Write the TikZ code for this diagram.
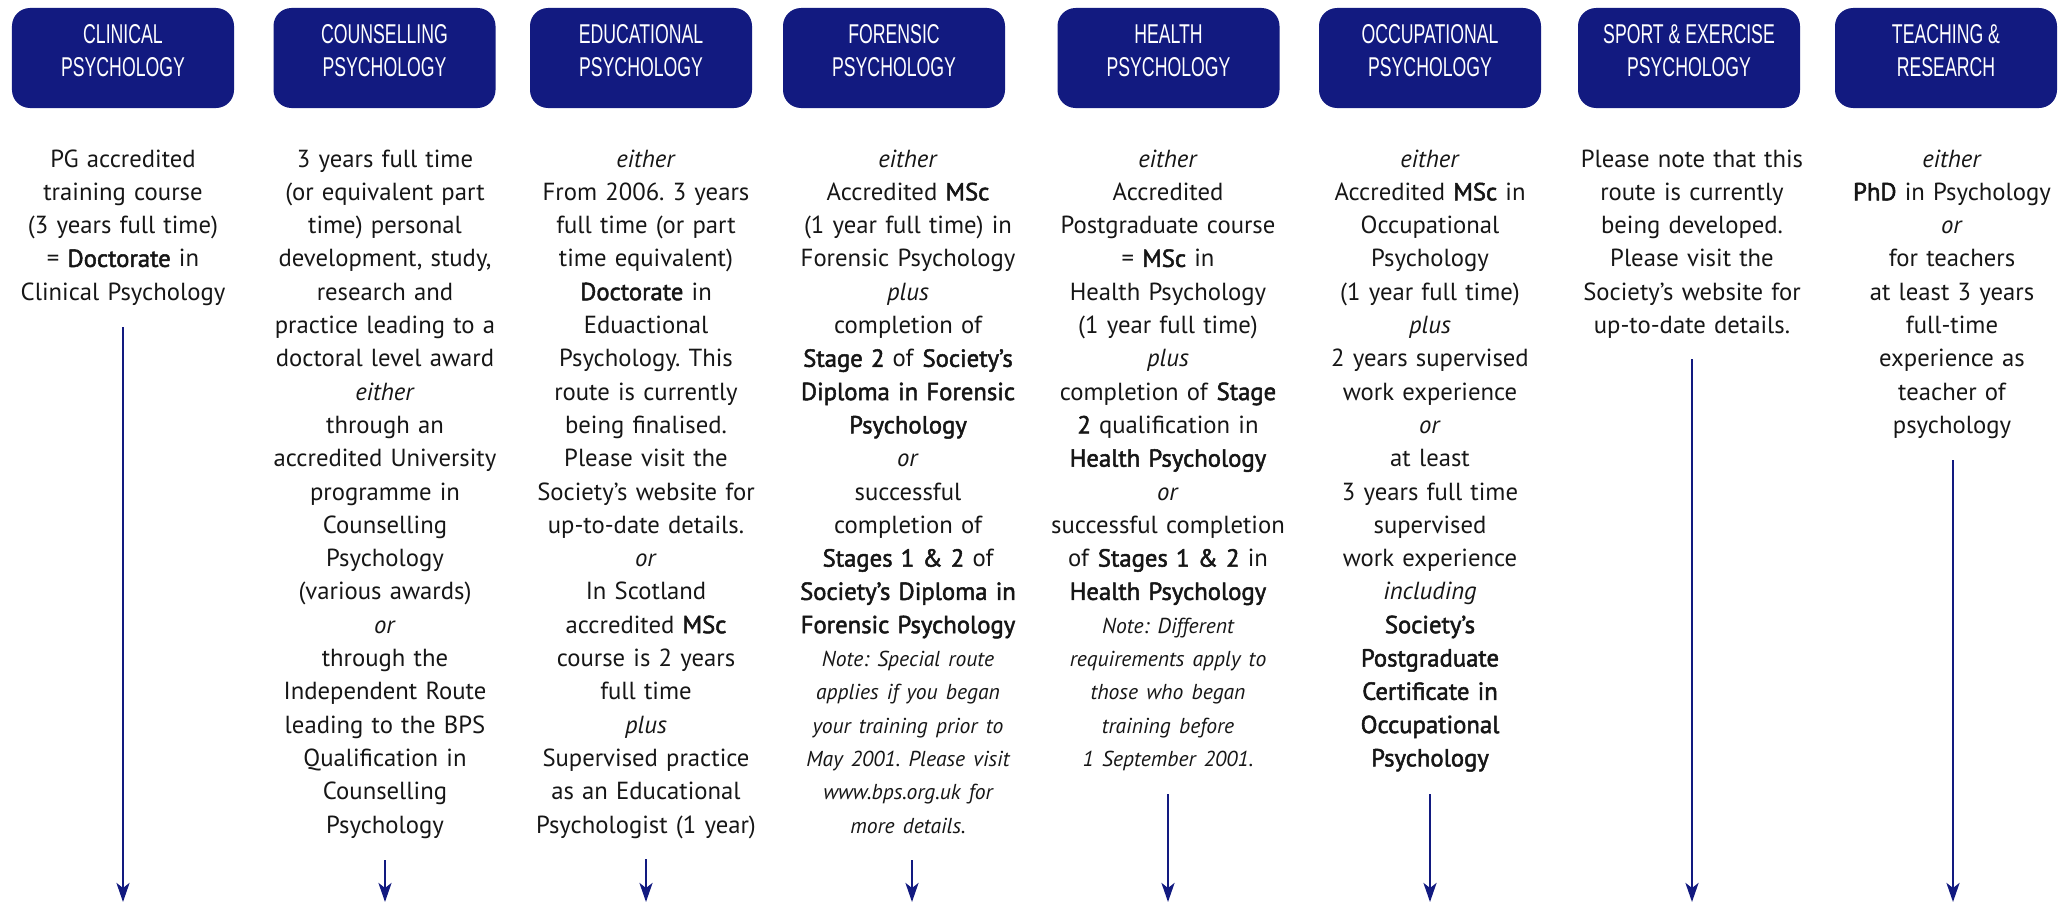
\documentclass[tikz,border=0pt]{standalone}
\usepackage{fontspec}
\setmainfont{PT Sans}[BoldFont={PT Sans}, BoldFeatures={FakeBold=2}]
\newfontfamily\headfont[FakeStretch=0.65]{Liberation Sans}
\usetikzlibrary{arrows.meta}
\definecolor{navy}{RGB}{18,26,128}
\definecolor{ink}{RGB}{22,22,22}
\newcommand{\notefont}{\fontsize{21.6bp}{33.3bp}\selectfont\itshape}
\frenchspacing
\tikzset{
  headbox/.style={fill=navy, rounded corners=18bp, minimum width=222bp, minimum height=100bp, inner sep=0pt},
  headtext/.style={text=white, font=\headfont\fontsize{27.2bp}{33bp}\selectfont, align=center, inner sep=0pt},
  body/.style={text=ink, font=\fontsize{24.7bp}{33.3bp}\selectfont\frenchspacing, text width=270bp, align=center, inner sep=0pt, anchor=base},
  flow/.style={draw=navy, line width=2.6bp, -{Stealth[length=19bp,width=13bp,inset=5bp]}},
}
\begin{document}
\begin{tikzpicture}[x=1bp,y=-1bp]
\useasboundingbox (0,0) rectangle (2071,902);
% header boxes
\node[headbox] (h1) at (123,58) {};
\node[headbox] (h2) at (384.5,58) {};
\node[headbox] (h3) at (641,58) {};
\node[headbox] (h4) at (894,58) {};
\node[headbox] (h5) at (1168.5,58) {};
\node[headbox] (h6) at (1430,58) {};
\node[headbox] (h7) at (1689,58) {};
\node[headbox] (h8) at (1946,58) {};
\node[headtext] (t1) at (123,51) {CLINICAL\\PSYCHOLOGY};
\node[headtext] (t2) at (384.5,51) {COUNSELLING\\PSYCHOLOGY};
\node[headtext] (t3) at (641,51) {EDUCATIONAL\\PSYCHOLOGY};
\node[headtext] (t4) at (894,51) {FORENSIC\\PSYCHOLOGY};
\node[headtext] (t5) at (1168.5,51) {HEALTH\\PSYCHOLOGY};
\node[headtext] (t6) at (1430,51) {OCCUPATIONAL\\PSYCHOLOGY};
\node[headtext] (t7) at (1689,51) {SPORT \& EXERCISE\\PSYCHOLOGY};
\node[headtext] (t8) at (1946,51) {TEACHING \&\\RESEARCH};
% body texts
\node[body] (b1) at (123,167) {PG accredited\\ training course\\ (3 years full time)\\ = \textbf{Doctorate} in\\ Clinical Psychology};
\node[body] (b2) at (385,167) {3 years full time\\ (or equivalent part\\ time) personal\\ development, study,\\ research and\\ practice leading to a\\ doctoral level award\\ \textit{either}\\ through an\\ accredited University\\ programme in\\ Counselling\\ Psychology\\ (various awards)\\ \textit{or}\\ through the\\ Independent Route\\ leading to the BPS\\ Qualification in\\ Counselling\\ Psychology};
\node[body] (b3) at (646,167) {\textit{either}\\ From 2006. 3 years\\ full time (or part\\ time equivalent)\\ \textbf{Doctorate} in\\ Eduactional\\ Psychology. This\\ route is currently\\ being finalised.\\ Please visit the\\ Society’s website for\\ up-to-date details.\\ \textit{or}\\ In Scotland\\ accredited \textbf{MSc}\\ course is 2 years\\ full time\\ \textit{plus}\\ Supervised practice\\ as an Educational\\ Psychologist (1 year)};
\node[body] (b4) at (908,167) {\textit{either}\\ Accredited \textbf{MSc}\\ (1 year full time) in\\ Forensic Psychology\\ \textit{plus}\\ completion of\\ \textbf{Stage 2} of \textbf{Society’s}\\ \textbf{Diploma in Forensic}\\ \textbf{Psychology}\\ \textit{or}\\ successful\\ completion of\\ \textbf{Stages 1 \& 2} of\\ \textbf{Society’s Diploma in}\\ \textbf{Forensic Psychology}\\ {\notefont Note: Special route\\ applies if you began\\ your training prior to\\ May 2001. Please visit\\ www.bps.org.uk for\\ more details.}};
\node[body] (b5) at (1168,167) {\textit{either}\\ Accredited\\ Postgraduate course\\ = \textbf{MSc} in\\ Health Psychology\\ (1 year full time)\\ \textit{plus}\\ completion of \textbf{Stage}\\ \textbf{2} qualification in\\ \textbf{Health Psychology}\\ \textit{or}\\ successful completion\\ of \textbf{Stages 1 \& 2} in\\ \textbf{Health Psychology}\\ {\notefont Note: Different\\ requirements apply to\\ those who began\\ training before\\ 1 September 2001.}};
\node[body] (b6) at (1430,167) {\textit{either}\\ Accredited \textbf{MSc} in\\ Occupational\\ Psychology\\ (1 year full time)\\ \textit{plus}\\ 2 years supervised\\ work experience\\ \textit{or}\\ at least\\ 3 years full time\\ supervised\\ work experience\\ \textit{including}\\ \textbf{Society’s}\\ \textbf{Postgraduate}\\ \textbf{Certificate in}\\ \textbf{Occupational}\\ \textbf{Psychology}};
\node[body] (b7) at (1692,167) {Please note that this\\ route is currently\\ being developed.\\ Please visit the\\ Society’s website for\\ up-to-date details.};
\node[body] (b8) at (1952,167) {\textit{either}\\ \textbf{PhD} in Psychology\\ \textit{or}\\ for teachers\\ at least 3 years\\ full-time\\ experience as\\ teacher of\\ psychology};
% arrow end points
\coordinate (s1) at (123,327);  \coordinate (e1) at (123,902);
\coordinate (s2) at (385,860);  \coordinate (e2) at (385,902);
\coordinate (s3) at (646,859);  \coordinate (e3) at (646,902);
\coordinate (s4) at (912,860);  \coordinate (e4) at (912,902);
\coordinate (s5) at (1168,794); \coordinate (e5) at (1168,902);
\coordinate (s6) at (1430,794); \coordinate (e6) at (1430,902);
\coordinate (s7) at (1692,359); \coordinate (e7) at (1692,902);
\coordinate (s8) at (1953,460); \coordinate (e8) at (1953,902);
\foreach \i in {1,...,8} {\draw[flow] (s\i) -- (e\i);}
\end{tikzpicture}
\end{document}
